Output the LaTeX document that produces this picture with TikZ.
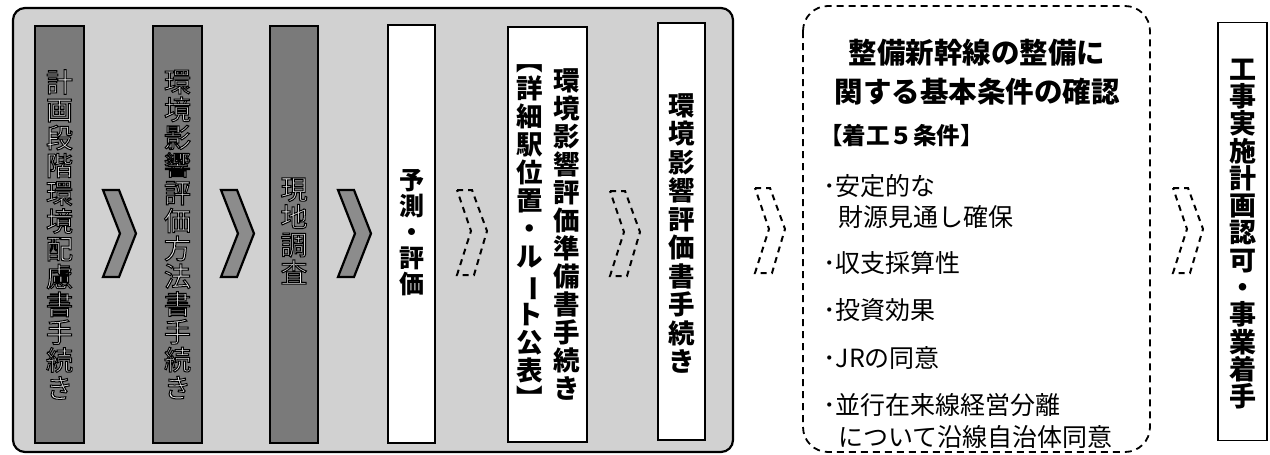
\documentclass[tikz,border=0pt]{standalone}
\usepackage{fontspec}
\setmainfont{Noto Sans CJK JP}
\usepackage{graphicx}
\newcommand\outlon{\special{pdf:literal direct 2 Tr 1.0 w 0 0 0 RG}}
\newcommand\vbar{\rotatebox[origin=c]{-90}{ー}}
\tikzset{
  bigbox/.style={draw, line width=2.2pt, rounded corners=12pt, fill=black!18},
  darkbox/.style={draw, line width=1.6pt, fill=black!52},
  whitebox/.style={draw, line width=1.6pt, fill=white},
  chev/.style={draw, line width=2.2pt, fill=black!45, line join=miter},
  dchev/.style={draw, line width=2pt, dash pattern=on 6pt off 5pt},
  dashbox/.style={draw, line width=1.8pt, dash pattern=on 7pt off 5pt, rounded corners=25pt, fill=white},
  darktext/.style={align=center, inner sep=0pt, text=black!8, font=\fontsize{27}{27.8}\selectfont},
  vbold/.style={align=center, inner sep=0pt, font=\fontsize{26.5}{28}\selectfont\bfseries},
  listtext/.style={anchor=west, inner sep=0pt, font=\fontsize{25}{26}\selectfont},
}
\newcommand\solidchev[2]{\draw[chev] (#1,#2) -- ++(16,0) -- ++(17,43.5) -- ++(-17,43.5) -- ++(-16,0) -- ++(17,-43.5) -- cycle;}
\newcommand\dashchev[2]{\draw[dchev] (#1,#2) -- ++(15,0) -- ++(15,41) -- ++(-13,44) -- ++(-17,0) -- ++(14,-44) -- cycle;}
\begin{document}
\begin{tikzpicture}[x=1pt,y=-1pt]
\useasboundingbox (0,0) rectangle (1270,455);
\fill[white] (0,0) rectangle (1270,455);

% big grey frame
\draw[bigbox] (13,8) rectangle (733,452);

% dark boxes
\node[darkbox, minimum width=49pt, minimum height=417pt] (b1) at (59.5,234.5) {};
\node[darkbox, minimum width=49pt, minimum height=417pt] (b2) at (177.5,234.5) {};
\node[darkbox, minimum width=48pt, minimum height=417pt] (b3) at (294,234.5) {};
\node[darktext] (t1) at (b1.center) {\outlon 計\\画\\段\\階\\環\\境\\配\\慮\\書\\手\\続\\き};
\node[darktext] (t2) at (b2.center) {\outlon 環\\境\\影\\響\\評\\価\\方\\法\\書\\手\\続\\き};
\node[darktext] (t3) at (294,231) {\outlon 現\\地\\調\\査};

% white boxes
\node[whitebox, minimum width=47pt, minimum height=418pt] (w1) at (411.5,234) {};
\node[whitebox, minimum width=79pt, minimum height=415pt] (w2) at (547.5,234.5) {};
\node[whitebox, minimum width=47pt, minimum height=417pt] (w3) at (681.5,231.5) {};
\node[vbold, font=\fontsize{25}{26}\selectfont\bfseries] (t4) at (411.5,233) {予\\測\\・\\評\\価};
\node[vbold] (t5a) at (567,235) {環\\境\\影\\響\\評\\価\\準\\備\\書\\手\\続\\き};
\node[vbold] (t5b) at (530,236.5) {︻\\詳\\細\\駅\\位\\置\\・\\ル\\\vbar\\ト\\公\\表\\︼};
\node[vbold, font=\fontsize{26.5}{28.5}\selectfont\bfseries] (t6) at (682,233.5) {環\\境\\影\\響\\評\\価\\書\\手\\続\\き};

% solid chevrons
\solidchev{103}{190}
\solidchev{221}{190}
\solidchev{338}{190}

% dashed chevrons
\dashchev{457}{190}
\dashchev{610}{191}
\dashchev{755}{188}
\dashchev{1173}{188}

% dashed conditions box
\draw[dashbox] (803,6) rectangle (1150,452);
\node[inner sep=0pt, font=\fontsize{28.5}{30}\selectfont\bfseries] (h1) at (977,53) {整備新幹線の整備に};
\node[inner sep=0pt, font=\fontsize{28.5}{30}\selectfont\bfseries] (h2) at (977,92) {関する基本条件の確認};
\node[listtext, font=\fontsize{23.5}{24}\selectfont\bfseries] (h3) at (819,136) {【着工５条件】};
\node[listtext] (l1) at (823,186) {･安定的な};
\node[listtext] (l1b) at (838,217) {財源見通し確保};
\node[listtext] (l2) at (823,263) {･収支採算性};
\node[listtext] (l3) at (823,310) {･投資効果};
\node[listtext] (l4) at (823,358) {･JRの同意};
\node[listtext] (l5) at (823,405) {･並行在来線経営分離};
\node[listtext] (l5b) at (838,437) {について沿線自治体同意};

% right box
\node[whitebox, minimum width=49pt, minimum height=418pt] (r) at (1242.5,231.5) {};
\node[vbold, font=\fontsize{27}{27.3}\selectfont\bfseries] (t7) at (1243,234) {工\\事\\実\\施\\計\\画\\認\\可\\・\\事\\業\\着\\手};
\end{tikzpicture}
\end{document}
